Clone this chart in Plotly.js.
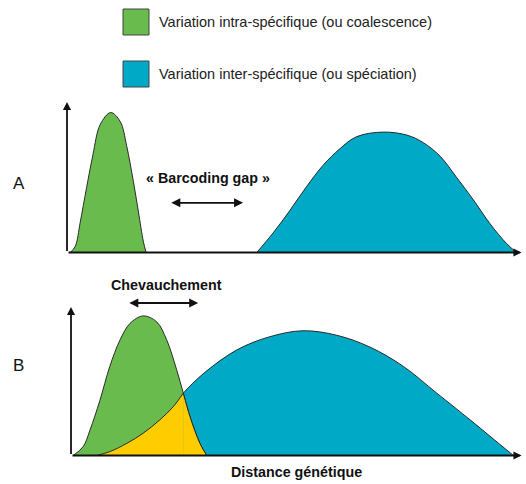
<!DOCTYPE html>
<html>
<head>
<meta charset="utf-8">
<script src="https://cdn.plot.ly/plotly-3.0.1.min.js"></script>
<style>html,body{margin:0;padding:0;background:#fff;}#chart{width:526px;height:484px;}</style>
</head>
<body>
<div id="chart"></div>
<script>
// ---- Data ----
// Panel A : intra-specific (green)
const greenA_x = [0.7, 1.8, 2.9, 4.3, 5.7, 7.3, 9.6, 11.7, 13.1, 14.6, 15.7, 16.8, 17.4];
const greenA_y = [0, 4, 20, 43, 65, 85, 93, 87, 71, 47, 27, 7, 0];
// Panel A : inter-specific (blue)
const blueA_x = [41.7, 45.3, 49.0, 52.7, 56.3, 60.0, 63.7, 69.5, 74.7, 78.3, 82.0, 85.6, 89.3, 93.0, 96.6, 98.8];
const blueA_y = [0, 13, 28, 44, 58, 69, 77, 80, 78, 73, 64, 50, 35, 19, 6, 0];
// Panel B : intra-specific (green)
const greenB_x = [0.5, 2.7, 4.2, 6.4, 8.6, 10.9, 13.1, 16.0, 19.0, 21.2, 23.4, 24.9, 26.4, 28.6, 30.1];
const greenB_y = [0, 6, 17, 37, 60, 78, 89, 94, 90, 78, 58, 42, 26, 8, 0];
// Panel B : inter-specific (blue)
const blueB_x = [5.7, 8.6, 12.4, 16.0, 19.7, 22.7, 24.9, 29.3, 36.7, 44.1, 51.4, 58.9, 66.3, 73.7, 81.1, 88.5, 92.9, 98.1];
const blueB_y = [0, 2.6, 8.2, 15, 24, 33, 42, 55, 71, 80, 84, 81, 73, 60, 42, 24, 13, 0];
// crossing of the two curves in panel B
const crossB_x = 24.9;

// Texts
const legendLabels = ["Variation intra-spécifique (ou coalescence)", "Variation inter-spécifique (ou spéciation)"];
const panelLabels = ["A", "B"];
const gapLabel = "« Barcoding gap »";
const overlapLabel = "Chevauchement";
const xTitle = "Distance génétique";
// arrows (data units)
const gapArrow = [22.6, 38.7, 33];   // x start, x end, y
const overlapArrow = [12.6, 28.2, 102.7];

// ---- Styles ----
const GREEN = "#69bb4d", BLUE = "#00a9c6", YELLOW = "#ffcc00", EDGE = "#2a2a2a", INK = "#111";
const FONT = "Liberation Sans, Arial, Helvetica, sans-serif";

function area(x, y, color, xa, ya) {
  return {x: x, y: y, xaxis: xa, yaxis: ya, type: "scatter", mode: "lines",
    line: {shape: "spline", smoothing: 1, color: EDGE, width: 1},
    fill: "tozeroy", fillcolor: color, hoverinfo: "skip", showlegend: false};
}

// overlap pieces for B
const yl1x = [], yl1y = [], yl2x = [], yl2y = [];
blueB_x.forEach((v, i) => { if (v <= crossB_x) { yl1x.push(v); yl1y.push(blueB_y[i]); } });
greenB_x.forEach((v, i) => { if (v >= crossB_x) { yl2x.push(v); yl2y.push(greenB_y[i]); } });

const traces = [
  area(greenA_x, greenA_y, GREEN, "x", "y"),
  area(blueA_x, blueA_y, BLUE, "x", "y"),
  area(blueB_x, blueB_y, BLUE, "x2", "y2"),
  area(greenB_x, greenB_y, GREEN, "x2", "y2"),
  area(yl1x, yl1y, YELLOW, "x2", "y2"),
  area(yl2x, yl2y, YELLOW, "x2", "y2")
];

const hidden = {showgrid: false, zeroline: false, showticklabels: false, ticks: "", showline: false, fixedrange: true};

function axisArrow(xr, yr, x, y) {
  return {xref: xr, yref: yr, axref: xr, ayref: yr, x: x, y: y, ax: 0, ay: 0, text: "",
    showarrow: true, arrowhead: 2, arrowsize: 0.9, arrowwidth: 1.8, arrowcolor: INK};
}
function dblArrow(xr, yr, a) {
  return {xref: xr, yref: yr, axref: xr, ayref: yr, x: a[1], y: a[2], ax: a[0], ay: a[2], text: "",
    showarrow: true, arrowhead: 2, startarrowhead: 2, arrowside: "end+start", arrowsize: 1,
    startarrowsize: 1, arrowwidth: 1.8, arrowcolor: INK};
}
function label(x, y, text, size, xanchor, color) {
  return {xref: "paper", yref: "paper", x: x, y: y, xanchor: xanchor, yanchor: "middle", text: text,
    showarrow: false, font: {family: FONT, size: size, color: color || INK}};
}

const annotations = [
  axisArrow("x", "y", 0, 100), axisArrow("x", "y", 99.9, 0),
  axisArrow("x2", "y2", 0, 100), axisArrow("x2", "y2", 99.9, 0),
  dblArrow("x", "y", gapArrow), dblArrow("x2", "y2", overlapArrow),
  {xref: "x", yref: "y", x: 31.0, y: 49.5, xanchor: "center", yanchor: "middle", text: "<b>" + gapLabel + "</b>",
    showarrow: false, font: {family: FONT, size: 14.3, color: INK}},
  label(166.7 / 526, (484 - 285) / 484, "<b>" + overlapLabel + "</b>", 14.3, "center"),
  label(296 / 526, (484 - 472) / 484, "<b>" + xTitle + "</b>", 14.3, "center"),
  label(19 / 526, (484 - 184) / 484, panelLabels[0], 17, "center"),
  label(19 / 526, (484 - 365) / 484, panelLabels[1], 17, "center"),
  label(157 / 526, (484 - 22) / 484, legendLabels[0], 14.5, "left", "#222"),
  label(157 / 526, (484 - 74) / 484, legendLabels[1], 14.5, "left", "#222")
];

const shapes = [
  {type: "rect", xref: "paper", yref: "paper", x0: 123 / 526, x1: 149 / 526, y0: (484 - 35) / 484, y1: (484 - 9) / 484,
    fillcolor: GREEN, line: {color: "#444", width: 1}},
  {type: "rect", xref: "paper", yref: "paper", x0: 123 / 526, x1: 149 / 526, y0: (484 - 87) / 484, y1: (484 - 61) / 484,
    fillcolor: BLUE, line: {color: "#444", width: 1}}
];

const layout = {
  width: 526, height: 484, margin: {l: 0, r: 0, t: 0, b: 0},
  paper_bgcolor: "#fff", plot_bgcolor: "rgba(0,0,0,0)", showlegend: false,
  xaxis: Object.assign({}, hidden, {domain: [62.45 / 526, 522 / 526], range: [-1, 100], anchor: "y"}),
  yaxis: Object.assign({}, hidden, {domain: [0.47209, 0.82035], range: [-2, 110], anchor: "x"}),
  xaxis2: Object.assign({}, hidden, {domain: [66.49 / 526, 522 / 526], range: [-1, 100], anchor: "y2"}),
  yaxis2: Object.assign({}, hidden, {domain: [0.05275, 0.41171], range: [-2, 115], anchor: "x2"}),
  annotations: annotations, shapes: shapes
};

Plotly.newPlot("chart", traces, layout, {staticPlot: true, displayModeBar: false});
</script>
</body>
</html>
